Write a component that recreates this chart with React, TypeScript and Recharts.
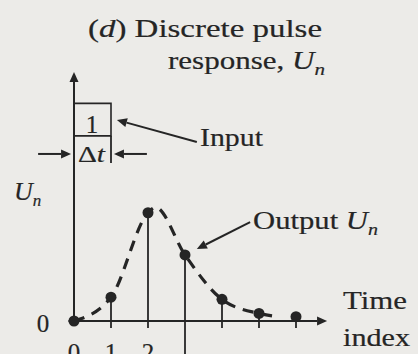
import {
  ComposedChart,
  Line,
  ReferenceArea,
  ReferenceLine,
  XAxis,
  YAxis,
} from 'recharts'

const WIDTH = 418
const HEIGHT = 354
const INK = '#252525'
const PAPER = '#ecebe8'
const SERIF = '"Liberation Serif", "Times New Roman", serif'

// discrete pulse response U_n sampled at each time index
const timeIndex = [0, 1, 2, 3, 4, 5, 6]
const outputU = [0, 0.22, 1.0, 0.61, 0.2, 0.07, 0.04]

// continuous response drawn dashed behind the samples
const curveT = [0, 1, 2, 2.2, 3, 4, 5, 5.5]
const curveU = [0, 0.22, 1.0, 1.05, 0.61, 0.2, 0.07, 0.04]

const tickLabels = [0, 1, 2]

// the unit input pulse lasts one step, Δt
const pulseFrom = 0
const pulseTo = 1

const samples = timeIndex.map((t, i) => ({ t, u: outputU[i] }))
const curve = curveT.map((t, i) => ({ t, u: curveU[i] }))

const MARGIN = { top: 72, right: 85, left: 74, bottom: 3 }

const Arrow = (props: any) => {
  const { x1, y1, x2, y2 } = props
  const head = 10
  const half = 4.5
  const a = Math.atan2(y2 - y1, x2 - x1)
  const bx = x2 - head * Math.cos(a)
  const by = y2 - head * Math.sin(a)
  const pts = [
    `${x2},${y2}`,
    `${bx + half * Math.sin(a)},${by - half * Math.cos(a)}`,
    `${bx - half * Math.sin(a)},${by + half * Math.cos(a)}`,
  ].join(' ')
  return (
    <g>
      <line x1={x1} y1={y1} x2={bx} y2={by} stroke={INK} strokeWidth={2} />
      <polygon points={pts} fill={INK} />
    </g>
  )
}

const Plain = (props: any) => (
  <line
    x1={props.x1}
    y1={props.y1}
    x2={props.x2}
    y2={props.y2}
    stroke={INK}
    strokeWidth={1.8}
  />
)

const arrow = (p: any) => <Arrow {...p} />
const plain = (p: any) => <Plain {...p} />

const Sub = ({ children }: { children: string }) => (
  <tspan fontStyle="italic" fontSize={17} dy={6}>
    {children}
  </tspan>
)

const Labels = () => (
  <svg
    width={WIDTH}
    height={HEIGHT}
    style={{ position: 'absolute', left: 0, top: 0, pointerEvents: 'none' }}
    fontFamily={SERIF}
    fill={INK}
    stroke={INK}
    strokeWidth={0.2}>
    <text x={88} y={37} fontSize={25} textLength={234} lengthAdjust="spacingAndGlyphs">
      (<tspan fontStyle="italic">d</tspan>) Discrete pulse
    </text>
    <text x={168} y={69} fontSize={25} textLength={157} lengthAdjust="spacingAndGlyphs">
      response, <tspan fontStyle="italic">U</tspan>
      <Sub>n</Sub>
    </text>
    <text x={200} y={146} fontSize={26} textLength={63} lengthAdjust="spacingAndGlyphs">
      Input
    </text>
    <text x={253} y={229} fontSize={26} textLength={125} lengthAdjust="spacingAndGlyphs">
      Output <tspan fontStyle="italic">U</tspan>
      <Sub>n</Sub>
    </text>
    <text x={343} y={309} fontSize={26} textLength={64} lengthAdjust="spacingAndGlyphs">
      Time
    </text>
    <text x={343} y={346} fontSize={26} textLength={67} lengthAdjust="spacingAndGlyphs">
      index
    </text>
    <text x={14} y={200} fontSize={26} fontStyle="italic">
      U<tspan fontSize={17} dy={6}>n</tspan>
    </text>
    <text x={43} y={332} fontSize={25} textAnchor="middle">
      0
    </text>
    <text x={92} y={133} fontSize={25} textAnchor="middle">
      1
    </text>
    <text x={78} y={162} fontSize={24} textLength={27} lengthAdjust="spacingAndGlyphs">
      Δ<tspan fontStyle="italic">t</tspan>
    </text>
  </svg>
)

export default function App() {
  return (
    <div style={{ position: 'relative', width: WIDTH, height: HEIGHT, background: PAPER }}>
      <style>{'body { margin: 0; }'}</style>
      <ComposedChart width={WIDTH} height={HEIGHT} margin={MARGIN}>
        <XAxis
          dataKey="t"
          type="number"
          domain={[0, 7]}
          ticks={tickLabels}
          axisLine={false}
          tickLine={false}
          tickSize={0}
          tickMargin={22}
          height={30}
          interval={0}
          tick={{ fill: INK, stroke: INK, strokeWidth: 0.2, fontSize: 25, fontFamily: SERIF }}
        />
        <YAxis dataKey="u" type="number" domain={[0, 2.3]} hide width={0} />

        {/* axes with arrowheads */}
        <ReferenceLine
          segment={[{ x: 0, y: 0 }, { x: 0, y: 2.3 }]}
          ifOverflow="visible"
          shape={arrow}
        />
        <ReferenceLine
          segment={[{ x: -0.15, y: 0 }, { x: 6.84, y: 0 }]}
          ifOverflow="visible"
          shape={arrow}
        />

        {/* stems from each sample down past the axis */}
        {samples.slice(1).map((s) => (
          <ReferenceLine
            key={s.t}
            segment={[{ x: s.t, y: s.u }, { x: s.t, y: s.t === 3 ? -0.32 : -0.065 }]}
            ifOverflow="visible"
            shape={plain}
          />
        ))}

        {/* input pulse box and Δt markers */}
        <ReferenceArea
          x1={pulseFrom}
          x2={pulseTo}
          y1={1.71}
          y2={2.01}
          ifOverflow="visible"
          fill="none"
          stroke={INK}
          strokeWidth={1.6}
          fillOpacity={0}
        />
        <ReferenceLine
          segment={[{ x: pulseTo, y: 1.71 }, { x: pulseTo, y: 1.46 }]}
          ifOverflow="visible"
          shape={plain}
        />
        <ReferenceLine
          segment={[{ x: -0.97, y: 1.543 }, { x: pulseFrom - 0.08, y: 1.543 }]}
          ifOverflow="visible"
          shape={arrow}
        />
        <ReferenceLine
          segment={[{ x: 1.97, y: 1.543 }, { x: pulseTo + 0.08, y: 1.543 }]}
          ifOverflow="visible"
          shape={arrow}
        />

        {/* callouts */}
        <ReferenceLine
          segment={[{ x: 3.32, y: 1.653 }, { x: 1.16, y: 1.857 }]}
          ifOverflow="visible"
          shape={arrow}
        />
        <ReferenceLine
          segment={[{ x: 4.76, y: 0.914 }, { x: 3.32, y: 0.665 }]}
          ifOverflow="visible"
          shape={arrow}
        />

        <Line
          data={curve}
          dataKey="u"
          type="monotone"
          stroke={INK}
          strokeWidth={3.2}
          strokeDasharray="11 8"
          dot={false}
          isAnimationActive={false}
        />
        <Line
          data={samples}
          dataKey="u"
          stroke="none"
          dot={{ r: 5.5, fill: INK, stroke: 'none' }}
          isAnimationActive={false}
        />
      </ComposedChart>
      <Labels />
    </div>
  )
}
